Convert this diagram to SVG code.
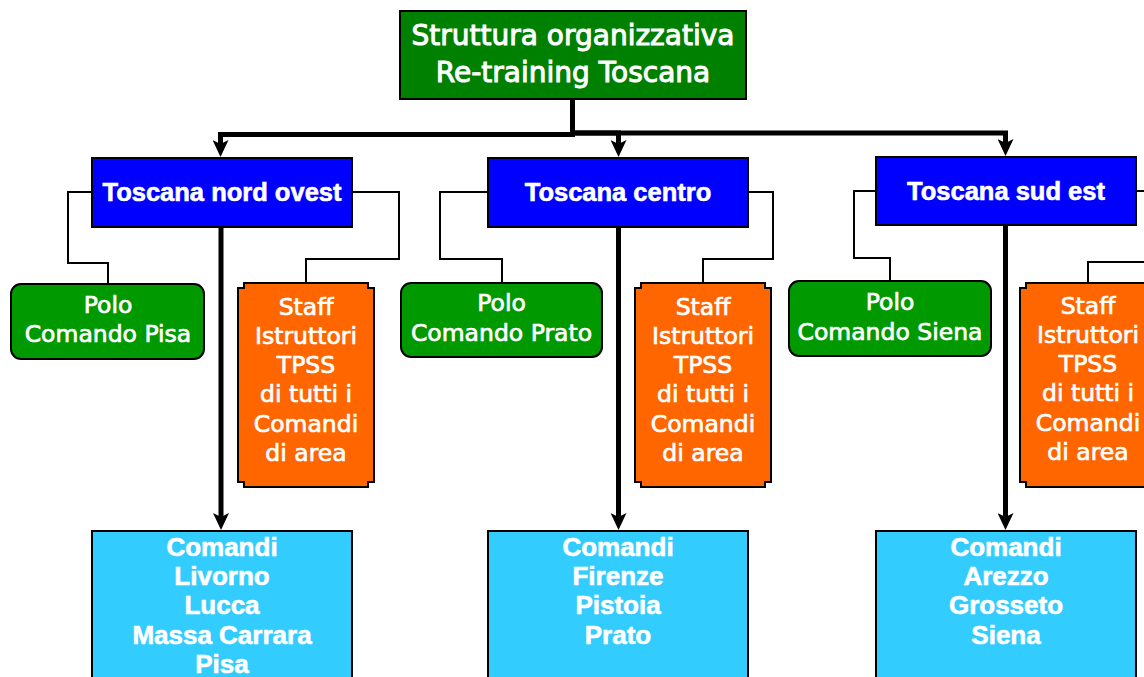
<svg xmlns="http://www.w3.org/2000/svg" width="1144" height="677" viewBox="0 0 1144 677">
<style>
.box{stroke:#000;stroke-width:2}
.top{fill:#008000}
.area{fill:#0000ff}
.polo{fill:#009900}
.staff{fill:#ff6600}
.cmd{fill:#33ccff}
.reg{font-family:"DejaVu Sans",Verdana,sans-serif;fill:#fff;stroke:#fff;stroke-width:0.7;text-anchor:middle}
.ttl{stroke-width:1}
.bold{font-family:"Liberation Sans",Arial,sans-serif;font-weight:bold;fill:#fff;stroke:#fff;stroke-width:0.6;text-anchor:middle}
.thick{fill:none;stroke:#000;stroke-width:5}
.thin{fill:none;stroke:#000;stroke-width:2}
</style>
<defs>
<marker id="arr" viewBox="0 0 17 16" markerUnits="userSpaceOnUse" markerWidth="17" markerHeight="16" refX="7" refY="8" orient="auto">
<path d="M0,0 L17,8 L0,16 L4,8 Z" fill="#000"/>
</marker>
</defs>
<rect width="1144" height="677" fill="#fff"/>
<g id="connectors">
<path class="thick" d="M572.5,99 V134.5 H220.5 V147" marker-end="url(#arr)"/>
<path class="thick" d="M572.5,99 V133 H618.5 V147" marker-end="url(#arr)"/>
<path class="thick" d="M572.5,99 V133 H1005.5 V146" marker-end="url(#arr)"/>
<path class="thick" d="M221,227 V520" marker-end="url(#arr)"/>
<path class="thick" d="M618.5,227 V520" marker-end="url(#arr)"/>
<path class="thick" d="M1005.5,225 V520" marker-end="url(#arr)"/>
<path class="thin" d="M92,192 H68 V263 H108 V284"/>
<path class="thin" d="M352,192 H399 V259 H306 V283"/>
<path class="thin" d="M487,192 H440 V259 H502 V283"/>
<path class="thin" d="M748,192 H773 V259 H703 V283"/>
<path class="thin" d="M876,191 H854 V258 H890 V281"/>
<path class="thin" d="M1136,191 H1146"/>
<path class="thin" d="M1146,262 H1088 V283"/>
</g>
<g id="root">
<rect class="box top" x="400" y="11" width="346" height="88"/>
<text class="reg ttl" x="573" y="45" font-size="28">Struttura organizzativa</text>
<text class="reg ttl" x="573" y="81.5" font-size="28">Re-training Toscana</text>
</g>
<g id="nord-ovest">
<rect class="box area" x="92" y="158" width="260" height="69"/>
<text class="bold" x="222" y="201" font-size="25.5">Toscana nord ovest</text>
</g>
<g id="centro">
<rect class="box area" x="488" y="158" width="260" height="69"/>
<text class="bold" x="618" y="201" font-size="25.5">Toscana centro</text>
</g>
<g id="sud-est">
<rect class="box area" x="876" y="157" width="260" height="68"/>
<text class="bold" x="1006" y="200" font-size="25.5">Toscana sud est</text>
</g>
<g id="polo-pisa">
<rect class="box polo" x="11" y="284" width="193" height="75" rx="10"/>
<text class="reg" x="108" y="313" font-size="23.5">Polo</text>
<text class="reg" x="108" y="342" font-size="23.5">Comando Pisa</text>
</g>
<g id="polo-prato">
<rect class="box polo" x="401" y="283" width="201" height="74" rx="10"/>
<text class="reg" x="501.5" y="311" font-size="23.5">Polo</text>
<text class="reg" x="501.5" y="341" font-size="23.5">Comando Prato</text>
</g>
<g id="polo-siena">
<rect class="box polo" x="789" y="281" width="202" height="75" rx="10"/>
<text class="reg" x="890" y="310" font-size="23.5">Polo</text>
<text class="reg" x="890" y="340" font-size="23.5">Comando Siena</text>
</g>
<g id="staff-nord-ovest">
<path class="box staff" d="M244,283 H368 V288 H374 V482 H368 V487 H244 V482 H238 V288 H244 Z"/>
<text class="reg" x="306" y="315" font-size="23.5">Staff</text>
<text class="reg" x="306" y="344" font-size="23.5">Istruttori</text>
<text class="reg" x="306" y="373" font-size="23.5">TPSS</text>
<text class="reg" x="306" y="402" font-size="23.5">di tutti i</text>
<text class="reg" x="306" y="432" font-size="23.5">Comandi</text>
<text class="reg" x="306" y="461" font-size="23.5">di area</text>
</g>
<g id="staff-centro">
<path class="box staff" d="M641,283 H765 V288 H771 V482 H765 V487 H641 V482 H635 V288 H641 Z"/>
<text class="reg" x="703" y="315" font-size="23.5">Staff</text>
<text class="reg" x="703" y="344" font-size="23.5">Istruttori</text>
<text class="reg" x="703" y="373" font-size="23.5">TPSS</text>
<text class="reg" x="703" y="402" font-size="23.5">di tutti i</text>
<text class="reg" x="703" y="432" font-size="23.5">Comandi</text>
<text class="reg" x="703" y="461" font-size="23.5">di area</text>
</g>
<g id="staff-sud-est">
<path class="box staff" d="M1026,283 H1150 V288 H1156 V482 H1150 V487 H1026 V482 H1020 V288 H1026 Z"/>
<text class="reg" x="1088" y="314" font-size="23.5">Staff</text>
<text class="reg" x="1088" y="343" font-size="23.5">Istruttori</text>
<text class="reg" x="1088" y="372" font-size="23.5">TPSS</text>
<text class="reg" x="1088" y="401" font-size="23.5">di tutti i</text>
<text class="reg" x="1088" y="431" font-size="23.5">Comandi</text>
<text class="reg" x="1088" y="460" font-size="23.5">di area</text>
</g>
<g id="comandi-nord-ovest">
<rect class="box cmd" x="92" y="531" width="260" height="160"/>
<text class="bold" x="222" y="556" font-size="26">Comandi</text>
<text class="bold" x="222" y="585" font-size="26">Livorno</text>
<text class="bold" x="222" y="614" font-size="26">Lucca</text>
<text class="bold" x="222" y="643.5" font-size="26">Massa Carrara</text>
<text class="bold" x="222" y="673" font-size="26">Pisa</text>
</g>
<g id="comandi-centro">
<rect class="box cmd" x="488" y="531" width="260" height="160"/>
<text class="bold" x="618" y="556" font-size="26">Comandi</text>
<text class="bold" x="618" y="585" font-size="26">Firenze</text>
<text class="bold" x="618" y="614" font-size="26">Pistoia</text>
<text class="bold" x="618" y="643.5" font-size="26">Prato</text>
</g>
<g id="comandi-sud-est">
<rect class="box cmd" x="876" y="531" width="260" height="160"/>
<text class="bold" x="1006" y="556" font-size="26">Comandi</text>
<text class="bold" x="1006" y="585" font-size="26">Arezzo</text>
<text class="bold" x="1006" y="614" font-size="26">Grosseto</text>
<text class="bold" x="1006" y="643.5" font-size="26">Siena</text>
</g>
</svg>
